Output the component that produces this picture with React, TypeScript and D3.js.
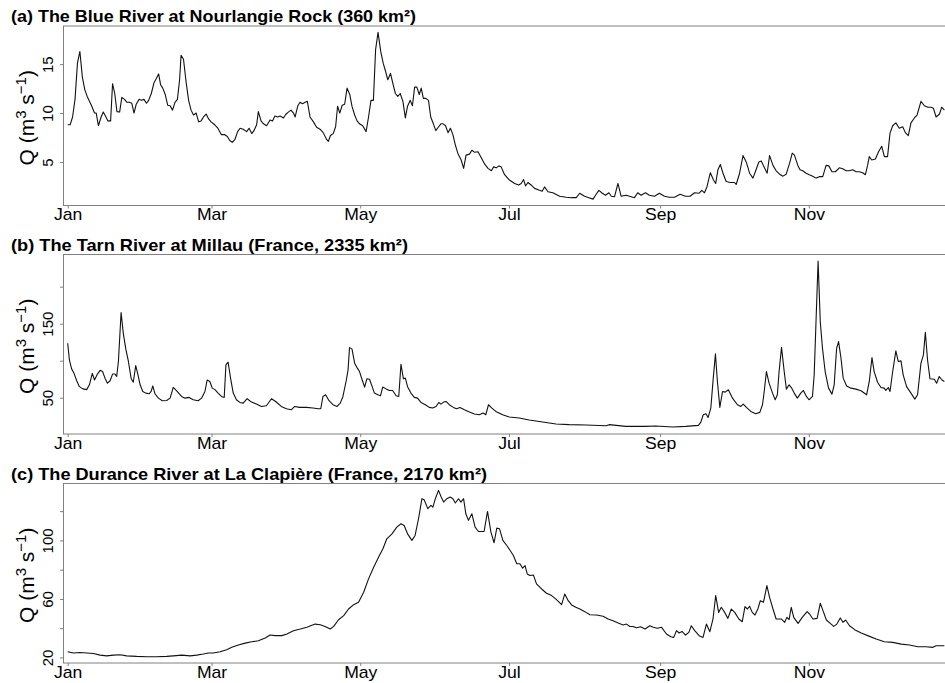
import React, { useEffect, useRef } from 'react';
import * as d3 from 'd3';

// month axis (day of year of the first of each labelled month)
const monthLabels = ['Jan', 'Mar', 'May', 'Jul', 'Sep', 'Nov'];
const monthStartDays = [0, 59, 120, 181, 243, 304];

const titles = [
  '(a) The Blue River at Nourlangie Rock (360 km²)',
  '(b) The Tarn River at Millau (France, 2335 km²)',
  '(c) The Durance River at La Clapière (France, 2170 km²)',
];

// y ticks per panel (R drops some labels that would overlap)
const blueTicks = [5, 10, 15];
const blueTickLabels = ['5', '10', '15'];
const tarnTicks = [50, 100, 150, 200];
const tarnTickLabels = ['50', '', '150', ''];
const duranceTicks = [20, 40, 60, 80, 100, 120];
const duranceTickLabels = ['20', '', '60', '', '100', ''];

// daily discharge: [day of year, Q in m3/s]
const blueRiver = [
  [0, 8.8], [1, 8.8], [2, 9.6], [3, 11.4], [4, 15.1], [5, 16.3], [6, 13.7], [7, 12.4], [8, 11.7], [9.7, 10.8],
  [11, 10.0], [11.7, 10.0], [12.6, 8.7], [13.7, 9.6], [14.6, 10.1], [15.7, 9.6], [16.5, 9.2], [17.6, 9.2], [18.4, 13.0], [19.3, 12.0],
  [20.2, 10.15], [21.3, 10.1], [22.2, 11.6], [23.3, 11.4], [24.3, 11.1], [25.3, 11.1], [26.3, 11.0], [27.2, 10.0], [28.1, 10.9], [29.3, 11.4],
  [30.2, 11.3], [31.3, 11.4], [32.3, 11.0], [33.2, 11.3], [34.3, 12.0], [35.4, 13.1], [36.3, 13.5], [37.3, 14.0], [38.1, 12.9], [39, 12.55],
  [40, 11.9], [41, 10.8], [42, 10.75], [43, 10.3], [44, 11.1], [45, 11.4], [45.9, 13.4], [46.5, 15.9], [47.5, 15.5], [48.6, 13.1],
  [49.6, 11.3], [50.6, 10.3], [51.6, 9.8], [52.7, 10.0], [53.7, 9.1], [54.7, 9.2], [55.7, 9.6], [56.8, 9.9], [57.8, 9.4], [58.8, 9.1],
  [60.3, 8.8], [61.6, 8.45], [63, 7.8], [64.3, 7.8], [65.5, 7.6], [66.5, 7.2], [67.5, 7.0], [68.6, 7.3], [69.7, 8.1], [70.7, 8.45],
  [72, 8.35], [73.4, 8.1], [74.4, 8.45], [75.5, 7.9], [76.4, 8.2], [77.5, 8.8], [78.2, 10.15], [79.3, 9.2], [80.3, 8.9], [81.6, 8.7],
  [83, 9.3], [84, 9.2], [85, 9.7], [86.1, 9.6], [87.1, 9.7], [88.5, 9.5], [89.4, 9.85], [90.5, 10.1], [91.6, 10.3], [92.6, 10.0],
  [93.3, 9.6], [94.4, 10.75], [95.3, 11.1], [96.3, 10.95], [97.4, 11.1], [98.3, 11.2], [99.4, 9.6], [100.8, 9.1], [102.1, 8.55], [103.5, 8.35],
  [104.8, 8.0], [106.2, 7.3], [106.9, 7.1], [107.8, 7.7], [108.9, 7.9], [109.9, 8.6], [110.7, 10.7], [111.6, 10.0], [112.6, 10.8], [113.6, 10.9],
  [114.6, 12.55], [115.7, 11.9], [116.6, 10.7], [117.7, 9.8], [118.7, 9.2], [119.7, 8.9], [121, 8.7], [122.4, 8.1], [123.4, 9.6], [124.4, 11.3],
  [125.4, 11.3], [126.3, 16.5], [127.3, 18.25], [128.4, 16.3], [129.4, 15.1], [130.4, 14.25], [131.3, 13.4], [132.4, 14.05], [133.5, 12.9], [134.4, 12.0],
  [135.4, 11.7], [136.4, 12.0], [137.5, 11.2], [138.5, 9.5], [139.4, 10.7], [140.5, 11.3], [141.4, 10.75], [142.3, 12.65], [143.2, 12.65], [144.2, 11.9],
  [145, 12.55], [145.9, 11.5], [146.9, 11.5], [148, 11.3], [148.9, 9.6], [150, 8.9], [151, 8.2], [152, 8.55], [153.1, 8.9], [154, 8.9],
  [155, 8.7], [156, 8.0], [157, 8.45], [158, 7.8], [159, 6.75], [160, 5.9], [161.4, 5.2], [162.4, 4.35], [163.4, 5.7], [164.8, 5.8],
  [165.8, 6.2], [166.8, 6.0], [168.3, 6.05], [169.7, 5.4], [171, 4.8], [172.4, 4.35], [173.8, 4.1], [174.7, 4.5], [175.8, 4.4], [176.9, 4.6],
  [177.8, 4.5], [179.2, 3.7], [181.2, 3.15], [183.3, 2.8], [185, 2.65], [186, 2.8], [187, 3.2], [187.8, 2.55], [188.8, 2.9], [190.1, 2.65],
  [191.5, 2.3], [193.5, 2.1], [194.6, 2.0], [195.6, 2.45], [197, 1.95], [199, 1.85], [201.8, 1.5], [204.5, 1.4], [206.6, 1.35], [208.6, 1.35],
  [210, 1.8], [212, 1.5], [213.8, 1.35], [215.5, 1.2], [216.5, 1.6], [217.9, 2.1], [219.3, 1.8], [220.6, 1.6], [222, 1.85], [223, 1.5],
  [224.3, 1.45], [225.7, 2.8], [227, 1.5], [229.1, 1.6], [231.1, 1.45], [232.5, 1.35], [233.8, 1.85], [235.2, 1.6], [237, 1.85], [238.6, 1.6],
  [240.7, 1.5], [242.7, 1.8], [244.8, 1.5], [246.8, 1.4], [248.9, 1.4], [251.2, 1.7], [253.4, 1.5], [255.3, 1.5], [257.1, 1.85], [258.9, 1.8],
  [260.1, 2.1], [261.2, 1.85], [262.2, 2.45], [263.6, 3.9], [264.9, 3.15], [265.8, 2.8], [266.7, 4.2], [267.7, 4.75], [268.8, 3.85], [270.1, 3.0],
  [271.8, 2.9], [273.5, 2.9], [274.2, 2.7], [275.6, 3.85], [277, 5.65], [278.4, 4.95], [279.7, 3.85], [281.1, 3.35], [282.2, 4.1], [283.5, 5.0],
  [284.5, 5.1], [285.6, 4.5], [286.9, 3.85], [287.9, 5.65], [289.3, 4.65], [290.6, 4.1], [292, 3.75], [293.4, 3.55], [294.7, 3.75], [296.1, 4.85],
  [297.2, 5.9], [298.1, 5.7], [299.5, 4.65], [300.4, 4.2], [301.5, 4.1], [302.9, 3.85], [304.2, 3.7], [305.6, 3.55], [307, 3.35], [308.3, 3.5],
  [309.7, 3.5], [311.1, 4.65], [312.2, 4.6], [313.5, 4.0], [314.9, 4.0], [316.5, 4.4], [317.9, 4.3], [319.3, 4.1], [320.6, 4.1], [322, 4.2],
  [323.4, 4.0], [324.7, 4.0], [326.1, 3.9], [327.2, 3.7], [328.1, 4.65], [328.8, 5.55], [329.8, 5.2], [331.3, 5.3], [332.6, 6.05], [333.9, 6.6],
  [335, 5.55], [336.3, 5.55], [337.3, 7.95], [338.4, 8.7], [339.7, 9.0], [341.1, 8.45], [342.5, 8.6], [343.6, 8.0], [344.8, 7.7], [345.9, 9.0],
  [347.3, 9.5], [348.4, 9.8], [350, 11.2], [351.4, 10.75], [352.8, 10.6], [354.1, 10.6], [355.1, 10.5], [356.2, 9.6], [357.6, 9.9], [358.5, 10.6],
  [359.6, 10.3],
];

const tarnRiver = [
  [0, 123.6], [0.7, 101], [1.6, 89], [2.6, 83], [3.7, 73], [4.8, 65], [6.2, 62], [7.8, 61], [8.9, 67.5], [10.1, 83],
  [11, 74], [12.2, 82], [13.3, 87], [14.3, 85.4], [15.3, 76.5], [16.3, 69.7], [17.4, 73], [18.4, 82], [19.4, 82], [20.1, 78.7],
  [20.8, 99], [21.9, 165], [22.8, 137], [23.9, 114.6], [24.9, 99], [26, 76.5], [26.9, 71], [27.9, 93.5], [28.7, 83], [29.7, 67.5],
  [30.8, 58.5], [32, 56.3], [33.4, 55.4], [34.2, 58.5], [34.9, 66], [35.8, 55.4], [37.2, 49.5], [38.8, 46], [40.6, 46.4], [42, 49.5],
  [43.3, 64], [44.7, 59.4], [46.7, 51.8], [48.1, 49.5], [49.8, 50.5], [51.5, 47.3], [53.5, 46], [54.9, 49.5], [56.3, 58.5], [57.2, 74],
  [58.3, 72], [59.3, 63], [60.4, 61], [61.7, 56.3], [63.1, 51.8], [64.2, 50.5], [64.9, 94.4], [65.8, 98], [66.8, 76.5], [67.9, 56.3],
  [69.2, 47.3], [70.6, 43.7], [72, 42.8], [73.6, 48.7], [75.4, 44.2], [77.4, 41.5], [79.5, 38.3], [81.5, 39.2], [83.6, 48.7], [85.3, 45],
  [87.6, 38.3], [89.7, 35.2], [91.7, 33.8], [93.1, 38.3], [95.1, 37], [97.9, 37], [100.6, 36.1], [102.7, 35.2], [103.8, 35.2], [104.7, 51.8],
  [105.8, 54], [107.2, 46], [108.8, 40.6], [110.5, 38.3], [111.8, 42.8], [112.9, 51.8], [114.3, 74], [115, 87.7], [115.6, 117.7], [116.6, 116],
  [117.7, 96.7], [118.8, 90], [119.7, 85.4], [120.8, 74], [121.8, 64.4], [122.7, 75.6], [123.8, 75], [124.9, 65], [125.8, 56.3], [127.2, 54],
  [128.3, 52.7], [129.2, 64.4], [130.6, 62], [132, 59.9], [133.3, 59.9], [134.7, 52.7], [135.8, 51.8], [136.7, 95.3], [137.7, 75.6], [138.5, 76.5],
  [139.4, 65], [140.8, 56.3], [142.2, 50.5], [143.5, 49.5], [144.9, 43.7], [146.7, 40.6], [148.3, 37], [149.7, 36.1], [151.1, 38.3], [152.2, 43.7],
  [153.1, 41.5], [154.2, 44.2], [155.2, 45], [156.5, 40.6], [158.2, 37], [159.5, 35.2], [160.9, 37], [162.7, 33.8], [164.8, 30.7], [166.8, 28],
  [168.8, 27.1], [170.4, 29.4], [171.5, 27.1], [172.6, 40.6], [174, 36.1], [175.6, 31.6], [178.4, 27.1], [181.1, 24], [185.2, 22.6], [189.3, 20],
  [194.8, 17.2], [200.3, 14.6], [205.7, 13.7], [212.6, 13.2], [220.8, 12.3], [222.1, 13.7], [228.9, 11.4], [237.1, 11.4], [241.2, 11.9], [248.1, 10.5],
  [253.5, 11.4], [258.7, 12.8], [259.7, 17.2], [260.7, 27.1], [261.8, 28.5], [262.7, 23.5], [263.8, 36.1], [264.8, 76.5], [265.7, 109.2], [266.5, 72],
  [267.5, 37], [268.6, 58.5], [269.7, 57.6], [271, 60.8], [272.7, 49.5], [274.7, 40.6], [276.1, 38.3], [277.1, 41.5], [278.4, 37], [280.2, 31.6],
  [282.2, 28.5], [283.9, 30.3], [285, 40.6], [285.7, 58.5], [286.6, 85.4], [287.7, 69.7], [289.1, 56.3], [290.2, 47.3], [291.1, 54], [291.8, 85.4],
  [292.8, 118.2], [293.9, 85.4], [294.8, 61.7], [295.9, 67.5], [297, 63], [298, 56.3], [299.3, 49.5], [300.7, 56.3], [301.8, 59.9], [303, 51.8],
  [304.1, 47.3], [305.5, 51.8], [306.2, 81], [306.9, 148.3], [307.8, 234.4], [308.7, 152.7], [309.6, 116.8], [310.7, 85.4], [312.1, 63], [313.5, 54.9],
  [314.4, 67.5], [315.4, 116.8], [316.2, 125.8], [317.2, 103.4], [318.1, 76.5], [319.5, 66], [321.3, 63], [323.3, 61.7], [325.4, 59.4], [327.7, 54],
  [328.8, 72], [329.9, 104.3], [330.8, 85.4], [332.2, 71], [333.6, 63.9], [334.9, 63], [335.6, 59.9], [336.6, 63.9], [337.3, 58.5], [338.4, 85.4],
  [339.7, 113.3], [340.7, 98.9], [341.8, 99.8], [342.7, 81], [344.1, 65], [345.9, 56.3], [347.5, 48.2], [348.6, 54], [350, 96.7], [351, 107.9],
  [351.8, 138.4], [352.7, 101], [353.7, 75.6], [355.5, 75], [356.4, 69.7], [357.5, 78.7], [358.6, 74], [359.6, 72],
];

const duranceRiver = [
  [0, 23.9], [2.3, 23], [5, 23.4], [7.8, 23], [10.5, 22.7], [13.3, 21.6], [16, 21.1], [18.7, 21.6], [21.5, 21.8], [24.2, 21.1],
  [28.3, 20.7], [32.4, 20.5], [36.5, 20.5], [40.6, 20.7], [43.3, 21.1], [46.8, 21.6], [50.2, 21.1], [52.9, 21.6], [55.6, 22.3], [57.7, 23],
  [59.7, 23], [62.5, 23.9], [65.2, 25.3], [67.3, 26.9], [70, 28.5], [72.8, 29.8], [75.5, 30.7], [78.2, 31.4], [81, 33.3], [83, 35.3],
  [85.1, 34.9], [87.8, 34.9], [89.9, 36], [92.6, 38.3], [95.4, 39.4], [98.1, 40.6], [101.5, 42.8], [103.6, 42.4], [105.6, 41.2], [107.7, 39.4],
  [109.1, 41.2], [111.1, 45.8], [113.2, 48.6], [115.2, 53.1], [117.3, 56.1], [119.3, 57.7], [121.4, 64.6], [123.4, 73.7], [125.5, 81.7], [127.5, 88.5],
  [129.3, 94.3], [130.9, 101.1], [133, 104.5], [135, 109.1], [136.7, 111.4], [138, 110.2], [139.4, 104.5], [141.2, 100], [142.5, 103.4], [143.9, 114.8],
  [145.3, 128.5], [146.2, 127.8], [147.7, 121.7], [149, 124], [149.8, 122.8], [150.8, 128.5], [152.1, 134.2], [153.2, 129.7], [154.2, 126.2], [155.5, 128.5],
  [156.9, 129.7], [158, 128.5], [159, 125.6], [160.3, 128.5], [161.3, 126.2], [162.4, 128.5], [163.3, 118.2], [164.4, 113.7], [165.8, 118.2], [167.1, 109.1],
  [168.5, 106.1], [170.8, 106.1], [172.2, 119.8], [173.6, 105.7], [174.9, 98.4], [176, 108.4], [177.1, 108], [178.5, 100], [180.1, 96.5], [181.5, 93.1],
  [182.8, 89.7], [184.2, 84], [185.5, 84], [186.6, 81], [187.6, 82.8], [188.5, 77.1], [189.6, 76], [191, 76.4], [192.3, 70.3], [194.4, 66.8],
  [196.4, 63.9], [198.5, 62.3], [200.5, 59.5], [202.6, 56.1], [203.9, 63.4], [205.3, 58.8], [206.7, 55.9], [208.4, 54.3], [210.1, 53.1], [212.1, 51.3],
  [214.2, 49.2], [216.9, 49], [219.6, 48.1], [221.7, 46.3], [223.7, 45.1], [225.8, 43.5], [227.8, 42.2], [229.2, 42.8], [230.6, 41.2], [231.9, 41.2],
  [233.3, 40.3], [235, 41], [236.8, 39.4], [238.8, 41.7], [240.2, 40.6], [241.8, 39.9], [243.6, 40.6], [245.6, 36], [247.4, 34.2], [248.6, 33.7],
  [249.7, 38.3], [250.8, 36.7], [252, 37.8], [253.4, 35.3], [254.8, 37.1], [255.8, 41.7], [257.2, 38.3], [259, 34.9], [260.6, 33.7], [262, 42.8],
  [263.4, 37.6], [264.7, 46.3], [265.8, 62.3], [267, 50.8], [268.1, 54.3], [269.5, 50.8], [270.8, 46.7], [272.2, 53.1], [273.6, 50.8], [275.3, 46.3],
  [276.7, 44.4], [277.8, 54.7], [278.8, 53.1], [279.7, 55], [280.8, 50.8], [281.9, 49], [283.1, 53.1], [284.1, 58.8], [285.4, 57.7], [286.8, 69.1],
  [287.9, 61.1], [289.3, 53.1], [290.6, 46.3], [292.7, 46.3], [294.1, 44], [295, 47.4], [295.9, 45.8], [296.8, 54.3], [297.8, 47.4], [299.6, 43.3],
  [301.3, 47.4], [303.3, 51.3], [304.3, 49.7], [305.7, 46.3], [307.4, 46.7], [308.7, 57], [309.8, 52], [311.2, 45.6], [312.8, 43.3], [314.2, 41.2],
  [315.5, 42.8], [316.9, 47], [318, 44], [319.1, 45.6], [320.7, 41.7], [322.8, 39], [325.5, 36.7], [328.9, 34.4], [331.6, 32.6], [335, 30.7],
  [338.4, 30.3], [341.9, 29.1], [345.3, 28.5], [348.7, 27.3], [352.1, 27.3], [354.9, 26.9], [356.2, 28], [359.6, 28],
];

const panels = [
  { data: blueRiver, domain: [0.55, 18.9], ticks: blueTicks, labels: blueTickLabels },
  { data: tarnRiver, domain: [1.1, 243.4], ticks: tarnTicks, labels: tarnTickLabels },
  { data: duranceRiver, domain: [16.2, 138.9], ticks: duranceTicks, labels: duranceTickLabels },
];

const W = 945, H = 683;
const panelTops = [26, 254.5, 483.5];
const panelH = 179.5;
const left = 63.5;
// widths the titles take up in the original
const titleWidths = [405, 397, 476];
const font = '"Liberation Sans", Arial, Helvetica, sans-serif';
const axisGrey = '#808080';

export default function App() {
  const ref = useRef<SVGSVGElement>(null);

  useEffect(() => {
    if (!ref.current) return;
    const svg = d3.select(ref.current);
    svg.selectAll('*').remove();

    // the plot runs on past the right edge of the picture
    const x = d3.scaleLinear().domain([0, 364]).range([67.7, 955.1]);

    panels.forEach((p, i) => {
      const top = panelTops[i];
      const bottom = top + panelH;
      const y = d3.scaleLinear().domain(p.domain).range([bottom, top]);
      const g = svg.append('g');

      g.append('text')
        .attr('x', 11)
        .attr('y', top - 4)
        .attr('textLength', titleWidths[i])
        .attr('lengthAdjust', 'spacingAndGlyphs')
        .attr('font-family', font)
        .attr('font-weight', 'bold')
        .attr('font-size', 17)
        .attr('fill', '#000')
        .text(titles[i]);

      g.append('rect')
        .attr('x', left)
        .attr('y', top)
        .attr('width', 1000 - left)
        .attr('height', panelH)
        .attr('fill', 'none')
        .attr('stroke', axisGrey)
        .attr('stroke-width', 1);

      const line = d3.line<number[]>()
        .x(d => x(d[0]))
        .y(d => y(d[1]));

      g.append('path')
        .datum(p.data)
        .attr('d', line)
        .attr('fill', 'none')
        .attr('stroke', '#111')
        .attr('stroke-width', 1.1)
        .attr('stroke-linejoin', 'round');

      // y axis, labels turned like R's las = 0
      const yAxis = g.append('g')
        .attr('transform', `translate(${left},0)`)
        .call(d3.axisLeft(y).tickValues(p.ticks).tickSize(3.5).tickFormat((d, j) => p.labels[j]));
      yAxis.select('.domain').remove();
      yAxis.selectAll('line').attr('stroke', axisGrey);
      yAxis.selectAll('text')
        .attr('transform', 'rotate(-90)')
        .attr('x', 0)
        .attr('y', -11)
        .attr('dy', 0)
        .attr('text-anchor', 'middle')
        .attr('font-family', font)
        .attr('font-size', 15)
        .attr('fill', '#000');

      const yLabel = g.append('text')
        .attr('transform', `translate(33.5,${top + panelH / 2 + 2}) rotate(-90)`)
        .attr('text-anchor', 'middle')
        .attr('font-family', font)
        .attr('font-size', 21)
        .attr('fill', '#000');
      yLabel.append('tspan').text('Q (m');
      yLabel.append('tspan').attr('dy', -8).attr('font-size', 15).text('3');
      yLabel.append('tspan').attr('dy', 8).text(' s');
      yLabel.append('tspan').attr('dy', -8).attr('font-size', 15).text('−1');
      yLabel.append('tspan').attr('dy', 8).text(')');

      // month axis
      const xAxis = g.append('g')
        .attr('transform', `translate(0,${bottom})`)
        .call(d3.axisBottom(x).tickValues(monthStartDays).tickSize(3).tickFormat((d, j) => monthLabels[j]));
      xAxis.select('.domain').remove();
      xAxis.selectAll('line').attr('stroke', axisGrey);
      xAxis.selectAll('text')
        .attr('y', 15)
        .attr('dy', 0)
        .attr('transform', 'scale(1.1,1)')
        .attr('font-family', font)
        .attr('font-size', 16)
        .attr('fill', '#000');
    });
  }, []);

  return (
    <svg
      ref={ref}
      width={W}
      height={H}
      style={{ position: 'absolute', left: 0, top: 0, background: '#fff' }}
    />
  );
}
